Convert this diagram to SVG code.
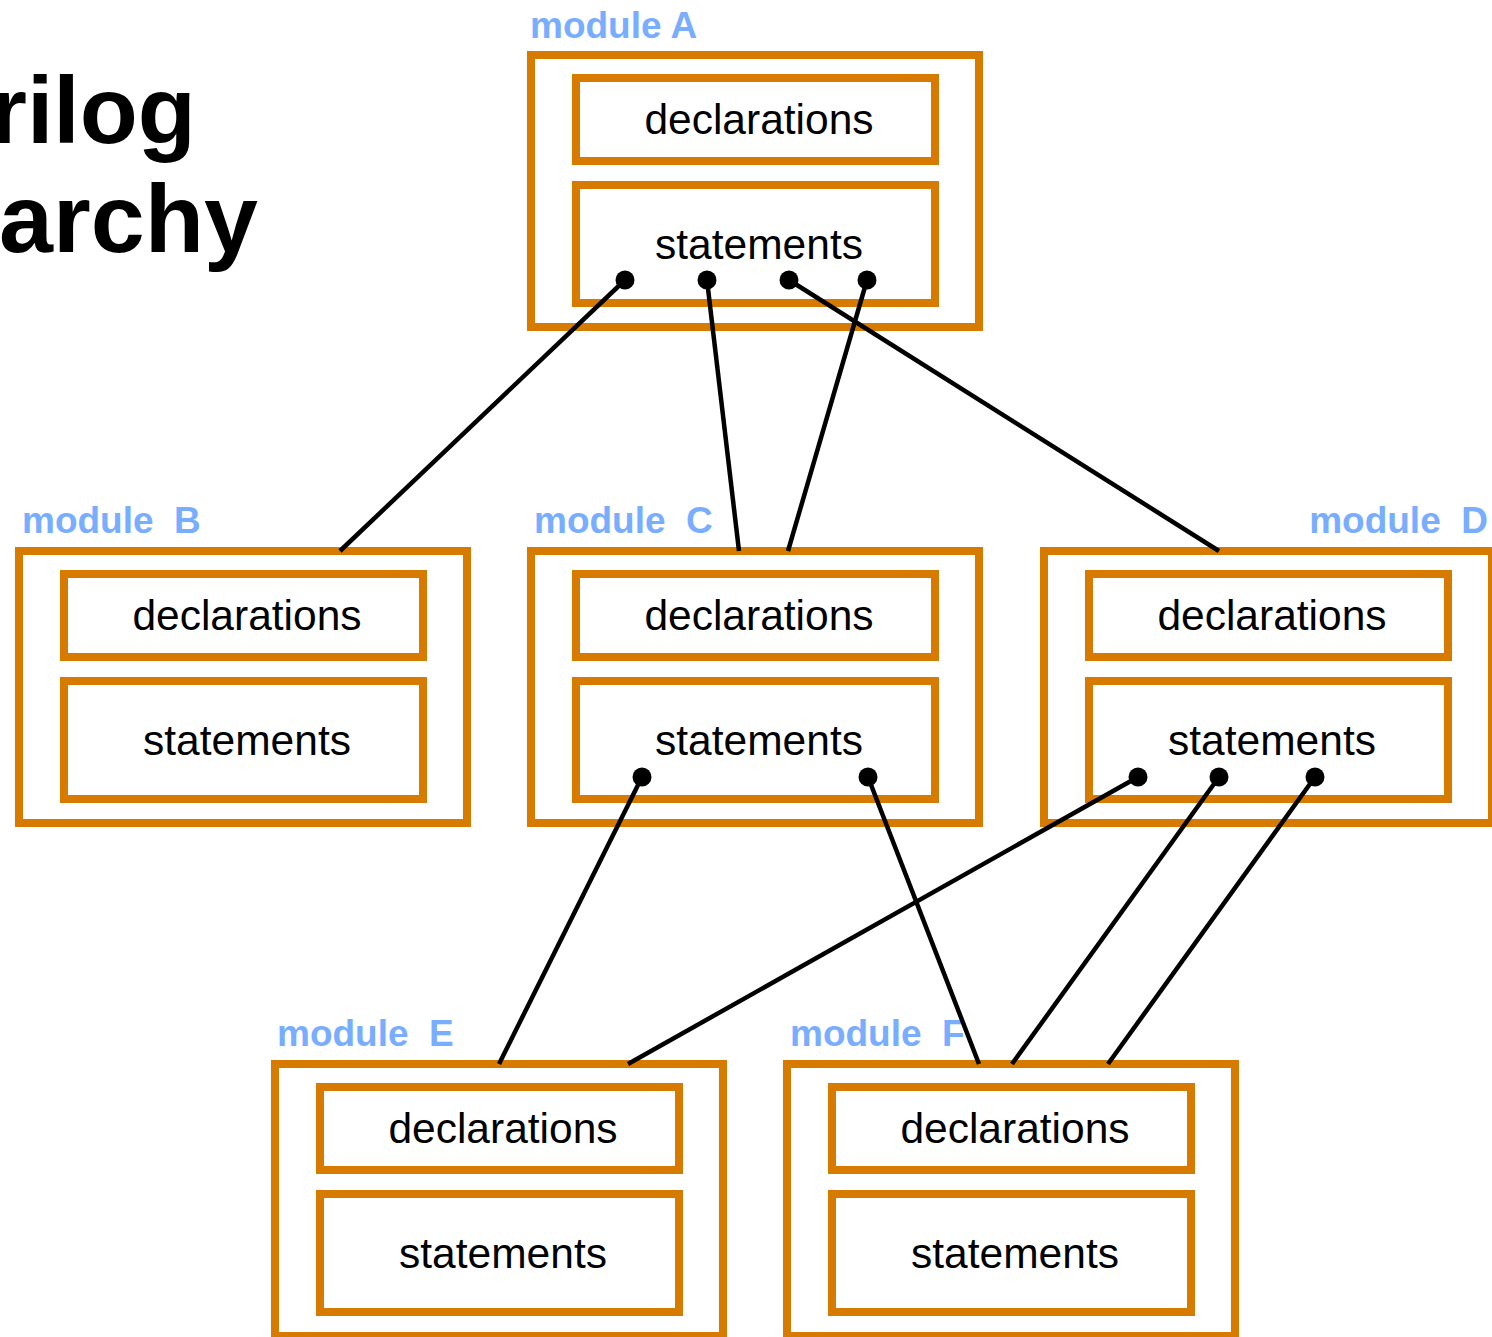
<svg xmlns="http://www.w3.org/2000/svg" width="1492" height="1337" viewBox="0 0 1492 1337">
<style>
.box{fill:none;stroke:#D77A00;stroke-width:8}
.txt{font-family:"Liberation Sans",Arial,sans-serif;font-size:42.5px;fill:#000;text-anchor:middle}
.lbl{font-family:"Liberation Sans",Arial,sans-serif;font-weight:bold;font-size:37px;fill:#79ADFF;white-space:pre}
.title{font-family:"Liberation Sans",Arial,sans-serif;font-weight:bold;font-size:97px;fill:#000}
.conn{stroke:#000;stroke-width:4.5;fill:none;marker-start:url(#dot)}
</style>
<defs>
<marker id="dot" markerUnits="userSpaceOnUse" markerWidth="22" markerHeight="22" refX="11" refY="11" viewBox="0 0 22 22">
<circle cx="11" cy="11" r="9.5" fill="#000"/>
</marker>
</defs>
<rect width="1492" height="1337" fill="#fff"/>
<g id="title">
<text class="title" x="-10" y="143" style="font-size:95px">rilog</text>
<text class="title" x="-1" y="252">archy</text>
</g>
<g id="moduleA">
<text class="lbl" x="530" y="38">module A</text>
<rect class="box" x="531" y="55" width="448" height="272"/>
<rect class="box" x="576" y="78" width="359" height="83"/>
<rect class="box" x="576" y="185" width="359" height="118"/>
<text class="txt" x="759" y="134">declarations</text>
<text class="txt" x="759" y="259">statements</text>
</g>
<g id="moduleB">
<text class="lbl" x="22" y="533">module  B</text>
<rect class="box" x="19" y="551" width="448" height="272"/>
<rect class="box" x="64" y="574" width="359" height="83"/>
<rect class="box" x="64" y="681" width="359" height="118"/>
<text class="txt" x="247" y="630">declarations</text>
<text class="txt" x="247" y="755">statements</text>
</g>
<g id="moduleC">
<text class="lbl" x="534" y="533">module  C</text>
<rect class="box" x="531" y="551" width="448" height="272"/>
<rect class="box" x="576" y="574" width="359" height="83"/>
<rect class="box" x="576" y="681" width="359" height="118"/>
<text class="txt" x="759" y="630">declarations</text>
<text class="txt" x="759" y="755">statements</text>
</g>
<g id="moduleD">
<text class="lbl" x="1488" y="533" text-anchor="end">module  D</text>
<rect class="box" x="1044" y="551" width="448" height="272"/>
<rect class="box" x="1089" y="574" width="359" height="83"/>
<rect class="box" x="1089" y="681" width="359" height="118"/>
<text class="txt" x="1272" y="630">declarations</text>
<text class="txt" x="1272" y="755">statements</text>
</g>
<g id="moduleE">
<text class="lbl" x="277" y="1046">module  E</text>
<rect class="box" x="275" y="1064" width="448" height="272"/>
<rect class="box" x="320" y="1087" width="359" height="83"/>
<rect class="box" x="320" y="1194" width="359" height="118"/>
<text class="txt" x="503" y="1143">declarations</text>
<text class="txt" x="503" y="1268">statements</text>
</g>
<g id="moduleF">
<text class="lbl" x="790" y="1046">module  F</text>
<rect class="box" x="787" y="1064" width="448" height="272"/>
<rect class="box" x="832" y="1087" width="359" height="83"/>
<rect class="box" x="832" y="1194" width="359" height="118"/>
<text class="txt" x="1015" y="1143">declarations</text>
<text class="txt" x="1015" y="1268">statements</text>
</g>
<g id="connectors">
<line class="conn" x1="625" y1="280" x2="340" y2="551"/>
<line class="conn" x1="707" y1="280" x2="739" y2="551"/>
<line class="conn" x1="867" y1="280" x2="788" y2="551"/>
<line class="conn" x1="789" y1="280" x2="1219" y2="551"/>
<line class="conn" x1="642" y1="777" x2="499" y2="1064"/>
<line class="conn" x1="868" y1="777" x2="979" y2="1064"/>
<line class="conn" x1="1138" y1="777" x2="628" y2="1064"/>
<line class="conn" x1="1219" y1="777" x2="1012" y2="1064"/>
<line class="conn" x1="1315" y1="777" x2="1108" y2="1064"/>
</g>
</svg>
